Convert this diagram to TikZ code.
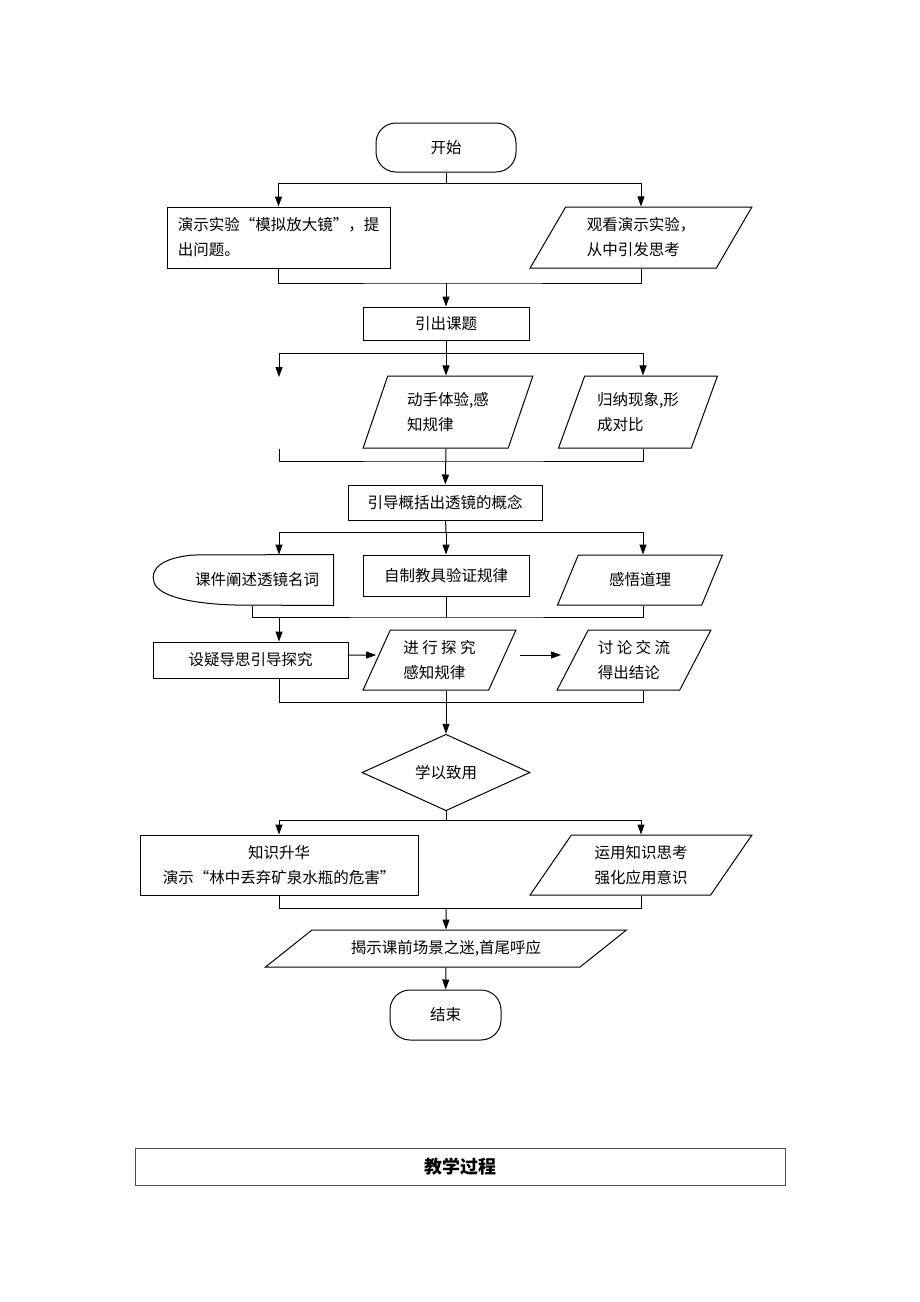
\documentclass[tikz,border=0pt]{standalone}
\usepackage{fontspec}
\setmainfont{Noto Sans CJK SC}
\usetikzlibrary{shapes.geometric,arrows.meta}

\begin{document}
\begin{tikzpicture}[x=1pt,y=-1pt,line width=1pt,
	font=\fontsize{15.5}{25}\selectfont,
	box/.style={draw,rectangle,inner sep=0pt,align=left},
	para/.style={draw,trapezium,trapezium stretches=true,inner sep=0pt,align=left},
	term/.style={draw,rectangle,rounded corners=20pt,inner sep=0pt},
	arr/.style={-{Triangle[length=10pt,width=7pt]}}]
	\useasboundingbox (0,0) rectangle (920,1302);
	% nodes
	\node[term,minimum width=140,minimum height=49] (start) at (446,147.5) {开始};
	\node[box,minimum width=223,minimum height=61] (demo) at (278.5,237.5) {演示实验“模拟放大镜”，提\\出问题。};
	\node[para,trapezium left angle=57,trapezium right angle=123,minimum width=222,minimum height=61] (watch) at (641,237.5) {观看演示实验，\\从中引发思考};
	\node[box,minimum width=166,minimum height=33] (topic) at (446,323.5) {引出课题};
	\node[para,trapezium left angle=67,trapezium right angle=113,minimum width=170,minimum height=72] (handson) at (448,412) {动手体验,感\\知规律};
	\node[para,trapezium left angle=63,trapezium right angle=117,minimum width=159,minimum height=72] (sum) at (638,412) {归纳现象,形\\成对比};
	\node[box,minimum width=194,minimum height=35] (concept) at (445,502.5) {引导概括出透镜的概念};
	\node[rectangle,inner sep=0pt,minimum width=152,minimum height=50] (terms) at (257,580) {课件阐述透镜名词};
	\draw (terms.north east) -- (terms.south east) -- (235,605)
		.. controls (195,604) and (158,597) .. (154,582)
		.. controls (150,570) and (160,558) .. (193,555) -- cycle;
	\node[box,minimum width=166,minimum height=41] (tool) at (446,575.5) {自制教具验证规律};
	\node[para,trapezium left angle=54,trapezium right angle=126,minimum width=166,minimum height=50] (insight) at (640,580) {感悟道理};
	\node[box,minimum width=195,minimum height=36] (guide) at (250.5,660) {设疑导思引导探究};
	\node[para,trapezium left angle=63,trapezium right angle=117,minimum width=153,minimum height=60] (explore) at (439.5,660) {进 行 探 究\\感知规律};
	\node[para,trapezium left angle=58,trapezium right angle=122,minimum width=154,minimum height=60] (discuss) at (634,660) {讨 论 交 流\\得出结论};
	\node[draw,diamond,inner sep=0pt,minimum width=168,minimum height=69] (use) at (446,772.5) {学以致用};
	\node[box,align=center,minimum width=278,minimum height=60] (raise) at (279,865) {知识升华\\演示“林中丢弃矿泉水瓶的危害”};
	\node[para,align=center,trapezium left angle=55,trapezium right angle=125,minimum width=222,minimum height=60] (think) at (641,865) {运用知识思考\\强化应用意识};
	\node[para,trapezium left angle=26,trapezium right angle=154,minimum width=362,minimum height=37] (reveal) at (446,948.5) {揭示课前场景之迷,首尾呼应};
	\node[term,minimum width=111,minimum height=50] (finish) at (445.5,1015) {结束};
	\node[draw=black!70,line width=0.8pt,minimum width=650,minimum height=37] (caption) at (460,1166.5) {\fontsize{18}{20}\selectfont\bfseries 教学过程};
	% junctions
	\coordinate (j1) at (446,183);
	\coordinate (m1) at (446,283);
	\coordinate (j2) at (446,353);
	\coordinate (s2) at (279,377);
	\coordinate (s2b) at (279,449);
	\coordinate (m2) at (446,461);
	\coordinate (j3) at (446,532);
	\coordinate (m3) at (446,617);
	\coordinate (m3l) at (279,617);
	\coordinate (a1) at (520,655);
	\coordinate (a2) at (561,655);
	\coordinate (m4) at (446,702);
	\coordinate (j5) at (446,820);
	\coordinate (m5) at (446,908);
	% connectors
	\draw (start) -- (j1);
	\draw[arr] (j1) -| (demo);
	\draw[arr] (j1) -| (watch.north);
	\draw (demo) |- (m1) -| (watch.south);
	\draw[arr] (m1) -- (topic);
	\draw (topic) -- (j2);
	\draw[arr] (j2) -| (s2);
	\draw[arr] (j2) -- (j2 |- handson.north);
	\draw[arr] (j2) -| ([xshift=5pt]sum.north);
	\draw (s2b) |- (m2) -| ([xshift=5pt]sum.south);
	\draw[arr] (m2 |- handson.south) -- (concept);
	\draw (concept) -- (j3);
	\draw[arr] (j3) -| ([xshift=22pt]terms.north);
	\draw[arr] (j3) -- (tool);
	\draw[arr] (j3) -| ([xshift=3pt]insight.north);
	\draw ([xshift=-5pt]terms.south) |- (m3) -| ([xshift=3pt]insight.south);
	\draw (tool) -- (m3);
	\draw[arr] (m3l) -- (m3l |- guide.north);
	\draw[arr] ([yshift=5pt]guide.east) -- ([yshift=5pt]explore.west);
	\draw[arr] (a1) -- (a2);
	\draw ([xshift=28.5pt]guide.south) |- (m4) -| ([xshift=9pt]discuss.south);
	\draw[arr] (m4 |- explore.south) -- (use);
	\draw (use) -- (j5);
	\draw[arr] (j5) -| (raise);
	\draw[arr] (j5) -| (think.north);
	\draw (raise) |- (m5) -| (think.south);
	\draw[arr] (m5) -- (reveal);
	\draw[arr] (reveal) -- (finish);
\end{tikzpicture}
\end{document}
